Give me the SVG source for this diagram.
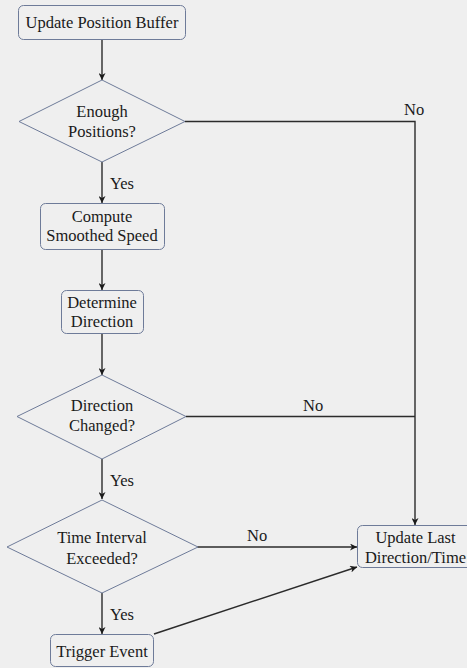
<svg xmlns="http://www.w3.org/2000/svg" width="467" height="668" viewBox="0 0 467 668">
<style>
.bg{fill:#efefef}
.node{fill:#efefef;stroke:#6e7b99;stroke-width:1}
.t{font-size:16.5px;fill:#1a1a1a;text-anchor:middle}
.l{font-size:16.5px;fill:#1a1a1a}
.c{fill:none;stroke:#2b2b2b;stroke-width:1.4}
</style>
<defs>
<marker id="ah" viewBox="0 0 10 10" refX="10" refY="5" markerWidth="7" markerHeight="7" markerUnits="userSpaceOnUse" orient="auto">
<path d="M0,0 L10,5 L0,10 L3,5 z" fill="#1a1a1a"/>
</marker>
</defs>
<rect class="bg" x="0" y="0" width="467" height="668"/>
<g font-family="'Liberation Serif', 'DejaVu Serif', serif">
<g id="connectors">
<line class="c" x1="102" y1="39" x2="102" y2="80" marker-end="url(#ah)"/>
<line class="c" x1="102" y1="162" x2="102" y2="203" marker-end="url(#ah)"/>
<line class="c" x1="102" y1="250" x2="102" y2="290" marker-end="url(#ah)"/>
<line class="c" x1="102" y1="333" x2="102" y2="375" marker-end="url(#ah)"/>
<line class="c" x1="102" y1="459" x2="102" y2="499" marker-end="url(#ah)"/>
<line class="c" x1="102" y1="593" x2="102" y2="634" marker-end="url(#ah)"/>
<polyline class="c" points="185,121.5 415,121.5 415,525" marker-end="url(#ah)"/>
<line class="c" x1="186" y1="416.5" x2="415" y2="416.5"/>
<line class="c" x1="197" y1="547" x2="357" y2="547" marker-end="url(#ah)"/>
<line class="c" x1="154" y1="634" x2="357" y2="567" marker-end="url(#ah)"/>
<text class="l" x="404" y="115">No</text>
<text class="l" x="303" y="411">No</text>
<text class="l" x="247" y="541">No</text>
<text class="l" x="110" y="189">Yes</text>
<text class="l" x="110" y="486">Yes</text>
<text class="l" x="110" y="620">Yes</text>
</g>
<g id="n1">
<rect class="node" x="18.5" y="5.5" width="167" height="34" rx="5"/>
<text class="t" x="102" y="28">Update Position Buffer</text>
</g>
<g id="n2">
<polygon class="node" points="102,80 185,121.5 102,162 19,121.5"/>
<text class="t" x="102" y="117">Enough</text>
<text class="t" x="102" y="137">Positions?</text>
</g>
<g id="n3">
<rect class="node" x="40.5" y="203.5" width="124" height="46" rx="5"/>
<text class="t" x="102" y="222">Compute</text>
<text class="t" x="102" y="241">Smoothed Speed</text>
</g>
<g id="n4">
<rect class="node" x="61.5" y="290.5" width="82" height="43" rx="5"/>
<text class="t" x="102" y="308">Determine</text>
<text class="t" x="102" y="327">Direction</text>
</g>
<g id="n5">
<polygon class="node" points="102,375 186,416.5 102,459 17,416.5"/>
<text class="t" x="102" y="411">Direction</text>
<text class="t" x="102" y="431">Changed?</text>
</g>
<g id="n6">
<polygon class="node" points="102,500 198,547 102,593 7,547"/>
<text class="t" x="102" y="543">Time Interval</text>
<text class="t" x="102" y="564">Exceeded?</text>
</g>
<g id="n7">
<rect class="node" x="50.5" y="634.5" width="103" height="32" rx="5"/>
<text class="t" x="102" y="657">Trigger Event</text>
</g>
<g id="n8">
<rect class="node" x="357.5" y="525.5" width="116" height="42" rx="5"/>
<text class="t" x="415.5" y="543">Update Last</text>
<text class="t" x="415.5" y="563">Direction/Time</text>
</g>
</g>
</svg>
